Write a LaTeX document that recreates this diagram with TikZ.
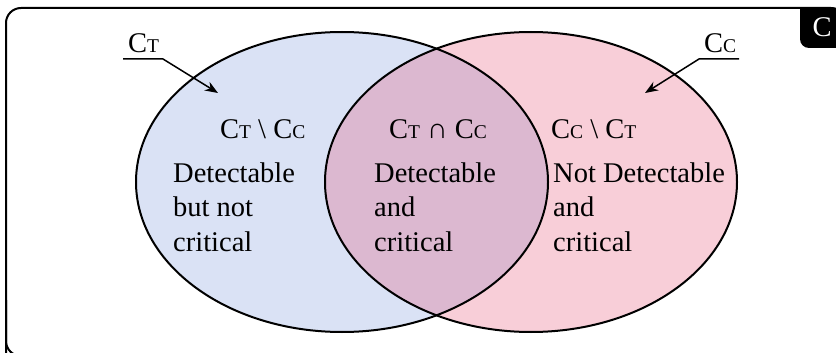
\documentclass[tikz,border=0pt]{standalone}
\usepackage{fontspec}
\setmainfont{Liberation Serif}
\usetikzlibrary{arrows.meta}

% set names with a small-capital subscript letter
\newcommand\smallcapletter[1]{{\fontsize{19.5}{20}\selectfont #1}}
\newcommand\setT{C\smallcapletter{T}}
\newcommand\setC{C\smallcapletter{C}}

\definecolor{blueset}{RGB}{218,226,245}
\definecolor{pinkset}{RGB}{248,206,216}
\definecolor{bothset}{RGB}{220,184,208}

\begin{document}
\begin{tikzpicture}[x=1pt,y=-1pt,
  every node/.style={inner sep=0pt, font=\fontsize{28.5}{34.5}\selectfont},
  region/.style={anchor=base west, align=left},
  setline/.style={line width=2pt, draw=black},
  pointer/.style={line width=1.5pt, -{Stealth[length=13pt,width=10pt]}},
  frameline/.style={line width=2pt, rounded corners=15pt}
]
\useasboundingbox (0,0) rectangle (836,353);

% the two sets and their overlap
\fill[blueset] (342,182) ellipse [x radius=206, y radius=150];
\fill[pinkset] (531,182) ellipse [x radius=206, y radius=150];
\begin{scope}
  \clip (342,182) ellipse [x radius=206, y radius=150];
  \fill[bothset] (531,182) ellipse [x radius=206, y radius=150];
\end{scope}
\draw[setline] (342,182) ellipse [x radius=206, y radius=150];
\draw[setline] (531,182) ellipse [x radius=206, y radius=150];

% region headings
\node[anchor=base west] (onlyT) at (220,139) {\setT{} \textbackslash{} \setC};
\node[anchor=base west] (both) at (389,139) {\setT{} ∩ \setC};
\node[anchor=base west] (onlyC) at (551,139) {\setC{} \textbackslash{} \setT};

% region descriptions (anchored at the baseline of the last line)
\node[region] (descT) at (173,251) {Detectable\\but not\\critical};
\node[region] (descB) at (374,251) {Detectable\\and\\critical};
\node[region] (descC) at (553,251) {Not Detectable\\and\\critical};

% set labels with pointers
\node[anchor=base west] (lblT) at (128,53) {\setT};
\coordinate (ulT) at (123,59);
\coordinate (kneeT) at (163,59);
\coordinate (tipT) at (218,93);
\draw[pointer] (ulT) -- (kneeT) -- (tipT);

\node[anchor=base west] (lblC) at (704,53) {\setC};
\coordinate (ulC) at (739,59);
\coordinate (kneeC) at (699,59);
\coordinate (tipC) at (645,93);
\draw[pointer] (ulC) -- (kneeC) -- (tipC);

% outer frame
\draw[frameline] (6,356) -- (6,8) -- (846,8) -- (846,356);
\draw[frameline] (6,300) -- (6,356) -- (846,356) -- (846,300);

% corner tab
\fill[black] (846,8) -- (800,8) [rounded corners=9pt] -- (800,48) -- (846,48) -- cycle;
\node[text=white] (tab) at (822,27) {C};
\end{tikzpicture}
\end{document}
